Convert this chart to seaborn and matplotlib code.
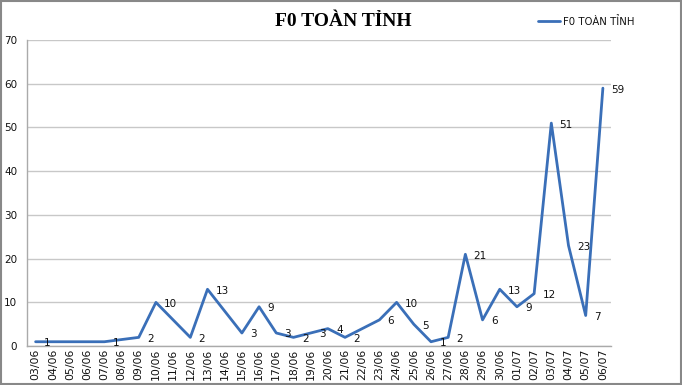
import numpy as np
import pandas as pd
import seaborn as sns
import matplotlib.pyplot as plt
from matplotlib.patches import Rectangle

# ngay va so ca F0 (o trong = khong co so lieu)
dates = ["03/06", "04/06", "05/06", "06/06", "07/06", "08/06", "09/06", "10/06",
         "11/06", "12/06", "13/06", "14/06", "15/06", "16/06", "17/06", "18/06",
         "19/06", "20/06", "21/06", "22/06", "23/06", "24/06", "25/06", "26/06",
         "27/06", "28/06", "29/06", "30/06", "01/07", "02/07", "03/07", "04/07",
         "05/07", "06/07"]
f0 = [1, np.nan, np.nan, np.nan, 1, np.nan, 2, 10,
      np.nan, 2, 13, np.nan, 3, 9, 3, 2,
      3, 4, 2, np.nan, 6, 10, 5, 1,
      2, 21, 6, 13, 9, 12, 51, 23,
      7, 59]
series_name = "F0 TOÀN TỈNH"

df = pd.DataFrame({"idx": range(len(dates)), "date": dates, "f0": f0}).dropna()

sns.set_style("white")
fig = plt.figure(figsize=(6.82, 3.85), dpi=100)
ax = fig.add_axes([0.0396, 0.101, 0.857, 0.795])

sns.lineplot(data=df, x="idx", y="f0", ax=ax, color="#3A6FB8", linewidth=2,
             label=series_name, legend=False)

for _, r in df.iterrows():
    ax.annotate(f"{int(r.f0)}", (r.idx, r.f0), xytext=(6, -1), textcoords="offset points",
                ha="left", va="center", fontsize=7.5, color="#111111")

ax.set_xlim(-0.5, len(dates) - 0.5)
ax.set_ylim(0, 70)
ax.set_yticks(range(0, 71, 10))
ax.set_xticks(range(len(dates)))
ax.set_xticklabels(dates, rotation=90, fontsize=7.8, color="#111111")
ax.set_xticks(np.arange(-0.5, len(dates), 1), minor=True)
ax.tick_params(axis="x", which="major", length=0, pad=2)
ax.tick_params(axis="x", which="minor", length=4, color="#AAAAAA", width=0.8)
ax.tick_params(axis="y", labelsize=7.5, labelcolor="#111111", length=4, color="#AAAAAA", pad=3)
ax.grid(axis="y", color="#C8C8C8", linewidth=1)
ax.set_xlabel("")
ax.set_ylabel("")
for s in ["top", "right"]:
    ax.spines[s].set_visible(False)
for s in ["left", "bottom"]:
    ax.spines[s].set_color("#AAAAAA")
    ax.spines[s].set_linewidth(1)

fig.text(0.503, 0.945, series_name, ha="center", va="center", fontsize=14,
         fontweight="bold", family="Liberation Serif", color="black")
h, l = ax.get_legend_handles_labels()
fig.legend(h, l, loc="center left", bbox_to_anchor=(0.775, 0.945), frameon=False,
           fontsize=7.3, handlelength=2.2, handletextpad=0.3, labelcolor="#111111")

fig.add_artist(Rectangle((0.001, 0.002), 0.997, 0.995, transform=fig.transFigure,
                         fill=False, edgecolor="#888888", linewidth=1.5))

fig.savefig("out.png", dpi=100)
